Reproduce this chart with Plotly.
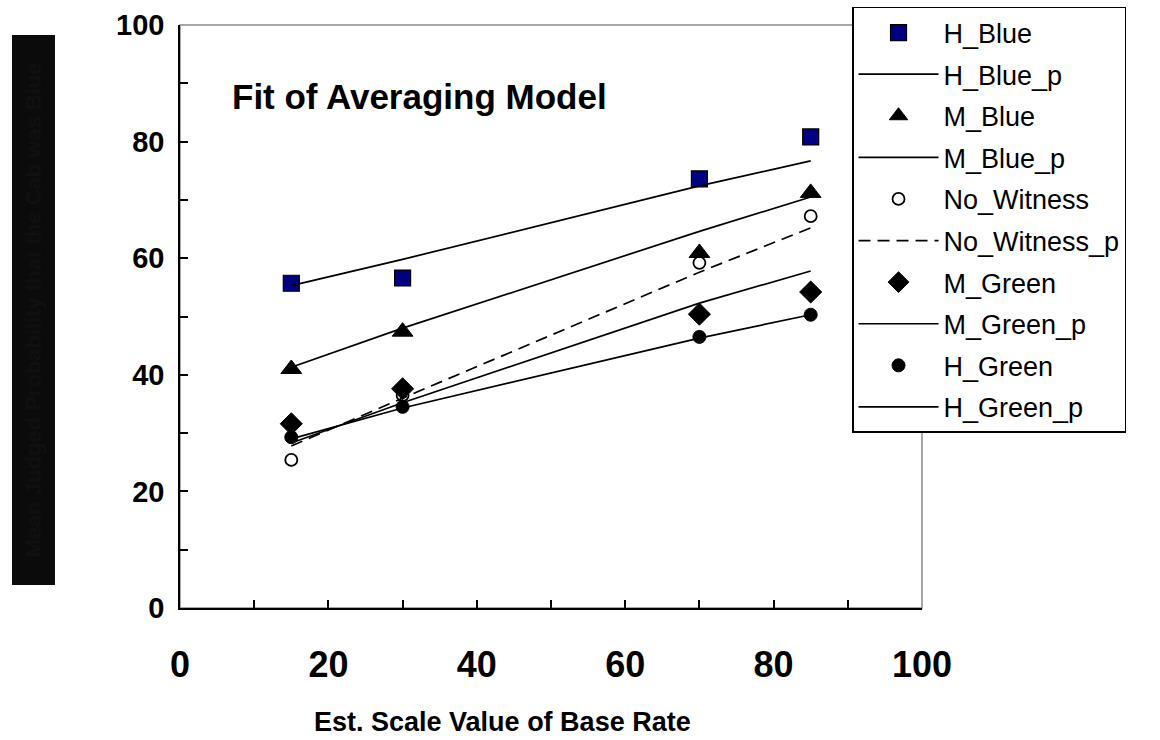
import plotly.graph_objects as go

# ---- data ----
base_rate = [15, 30, 70, 85]
h_blue = [55.7, 56.6, 73.6, 80.8]
h_blue_p = [55.3, 59.8, 72.4, 76.7]
m_blue = [41.0, 47.4, 60.9, 71.2]
m_blue_p = [41.3, 48.0, 64.6, 70.5]
no_witness = [25.4, 36.5, 59.2, 67.2]
no_witness_p = [27.8, 36.0, 57.6, 65.2]
m_green = [31.6, 37.6, 50.4, 54.2]
m_green_p = [28.3, 35.2, 52.3, 57.8]
h_green = [29.3, 34.5, 46.5, 50.3]
h_green_p = [29.0, 34.3, 46.3, 50.3]
tick_vals = [0, 20, 40, 60, 80, 100]
tick_text = ["0", "20", "40", "60", "80", "100"]

FONT = "Liberation Sans, Arial, Helvetica, sans-serif"
NARROW = "Liberation Sans Narrow, Arial Narrow, Liberation Sans, Arial, sans-serif"

fig = go.Figure()

def pts(name, y, symbol, size, fill, lw=1):
    fig.add_trace(go.Scatter(
        x=base_rate, y=y, name=name, mode="markers", legendgroup=name,
        marker=dict(symbol=symbol, size=size, color=fill,
                    line=dict(color="black", width=lw))))

def fit(name, y, dash="solid"):
    fig.add_trace(go.Scatter(
        x=base_rate, y=y, name=name, mode="lines", legendgroup=name,
        line=dict(color="black", width=1.7, dash=dash)))

pts("H_Blue", h_blue, "square", 16, "#000080", 1.2)
fit("H_Blue_p", h_blue_p)
pts("M_Blue", m_blue, "triangle-up", 18, "black", 1)
fit("M_Blue_p", m_blue_p)
pts("No_Witness", no_witness, "circle-open", 12, "black", 1.8)
fit("No_Witness_p", no_witness_p, dash="12px,7px")
pts("M_Green", m_green, "diamond", 17, "black", 1)
fit("M_Green_p", m_green_p)
pts("H_Green", h_green, "circle", 13, "black", 1)
fit("H_Green_p", h_green_p)

axis_common = dict(
    range=[0, 100], tickmode="array", tickvals=tick_vals, ticktext=tick_text,
    ticks="inside", ticklen=8, tickwidth=1.5, tickcolor="black",
    minor=dict(dtick=10, ticks="inside", ticklen=8, tickwidth=1.5, tickcolor="black"),
    showline=True, linecolor="black", linewidth=1.5,
    showgrid=False, zeroline=False, fixedrange=True,
)

fig.update_xaxes(**axis_common,
                 tickfont=dict(family=NARROW, size=36, weight=700, color="black"),
                 ticklabelstandoff=24)
fig.update_yaxes(**axis_common,
                 tickfont=dict(family=FONT, size=29, weight=700, color="black"),
                 ticklabelstandoff=8)

fig.update_layout(
    width=1160, height=740,
    margin=dict(l=180, r=238, t=25, b=132, autoexpand=False),
    paper_bgcolor="white", plot_bgcolor="white",
    showlegend=True,
    legend=dict(
        x=0.9057, y=1.0309, xanchor="left", yanchor="top",
        bgcolor="white", bordercolor="black", borderwidth=1.5,
        font=dict(family=FONT, size=27, color="black"),
        tracegroupgap=3.5, traceorder="grouped", itemwidth=80,
    ),
    shapes=[
        # grey frame on top/right of plot area
        dict(type="rect", xref="paper", yref="paper", x0=0, x1=1, y0=0, y1=1,
             line=dict(color="#8a8a8a", width=1.5), layer="below"),
        # dark block behind the y-axis title
        dict(type="rect", xref="paper", yref="paper",
             x0=-0.2264, x1=-0.1685, y0=0.0395, y1=0.983,
             fillcolor="#0b0b0b", line=dict(width=0), layer="below"),
    ],
    annotations=[
        dict(text="Fit of Averaging Model", xref="paper", yref="paper",
             x=0.0674, y=0.878, xanchor="left", yanchor="middle", showarrow=False,
             font=dict(family=FONT, size=35, weight=700, color="black")),
        dict(text="Est. Scale Value of Base Rate", xref="paper", yref="paper",
             x=0.4346, y=-0.2247, xanchor="center", yanchor="bottom", showarrow=False,
             font=dict(family=NARROW, size=27, weight=700, color="black")),
        dict(text="Mean Judged Probability that the Cab was Blue", xref="paper", yref="paper",
             x=-0.1975, y=0.511, xanchor="center", yanchor="middle", showarrow=False,
             textangle=-90,
             font=dict(family=FONT, size=22, weight=700, color="#101010")),
    ],
)

try:
    fig.update_layout(legend_maxheight=1000)
except Exception:
    pass

fig.write_html("out.html",
               config={"displayModeBar": False},
               post_script="document.body.style.margin='0';document.body.style.padding='0';")
